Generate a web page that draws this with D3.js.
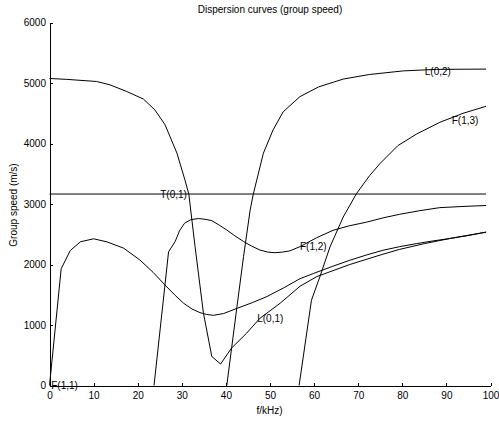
<!DOCTYPE html>
<html>
<head>
<meta charset="utf-8">
<script src="https://cdn.jsdelivr.net/npm/d3@7"></script>
<style>
  body { margin: 0; background: #fff; }
  svg { display: block; font-family: "Liberation Sans", Arial, sans-serif; }
  .axis path, .axis line { stroke: #000; shape-rendering: crispEdges; }
  .axis text { font-size: 10px; fill: #000; font-family: "Liberation Sans", Arial, sans-serif; }
</style>
</head>
<body>
<svg id="chart" width="499" height="421"></svg>
<script>
// f in kHz, group speed in m/s
let modes = ["L(0,1)", "F(1,1)", "F(1,2)", "L(0,2)", "F(1,3)", "T(0,1)"]

let L01 = [[0,5075],[3.9,5060],[10.7,5025],[13.7,4970],[17.5,4860],[21.3,4735],[23.9,4555],
  [26.2,4310],[28.9,3840],[30.7,3400],[31.6,3160],[33,2300],[34.9,1200],[36.8,480],
  [38.8,355],[41.3,620],[44.7,865],[47.7,1110],[52.3,1360],[56.8,1640],[60.6,1800],
  [68.1,2000],[75.6,2170],[79.4,2250],[85,2345],[90.8,2430],[99,2535]]

let F11 = [[0,0],[2.65,1930],[4.7,2230],[7,2375],[10,2425],[13,2375],[16.8,2270],
  [20.5,2075],[23.5,1870],[26.2,1660],[28.5,1490],[30.4,1360],[32.3,1265],[34.1,1205],
  [35.6,1175],[37.2,1160],[39.5,1190],[42.5,1275],[46,1370],[49.3,1470],[53,1610],
  [56.8,1765],[59.8,1850],[64,1965],[68.1,2070],[72,2160],[75.6,2235],[79.4,2295],
  [83.2,2345],[87,2390],[90.8,2430],[95,2480],[99,2535]]

let F12 = [[23.7,0],[27,2210],[28.5,2380],[29.5,2560],[30.6,2680],[32,2740],[33.8,2760],
  [35.5,2745],[36.8,2725],[38.5,2650],[40.2,2570],[42,2475],[44,2380],[45.8,2305],
  [47.7,2240],[49.5,2205],[51.1,2195],[52.8,2205],[54.5,2225],[56.8,2295],[60.5,2440],
  [64.3,2565],[68,2640],[71.9,2700],[75.6,2770],[79.4,2830],[84,2890],[88.5,2940],
  [94,2960],[99,2975]]

let L02 = [[40.2,0],[42.5,1300],[44,2130],[45.5,2900],[46.2,3160],[48.5,3840],[50.7,4225],
  [53,4525],[56.8,4775],[61,4935],[66.6,5065],[72.5,5140],[80.2,5200],[87.8,5225],[99,5230]]

let F13 = [[56.6,0],[59.4,1410],[61.3,1795],[63.6,2290],[66.6,2785],[69.6,3170],[72.6,3470],
  [74.9,3665],[79,3965],[83.2,4155],[88.5,4350],[93.8,4500],[99,4615]]

let T01 = [[0,3165],[99,3165]]

// where each mode name is written (data units, like matlab text())
let label_f = [47.1, 0.4, 56.8, 85.1, 91.2, 25.1]
let label_v = [1100, 0, 2305, 5185, 4375, 3165]

let x_ticks = [0, 10, 20, 30, 40, 50, 60, 70, 80, 90, 100]
let y_ticks = [0, 1000, 2000, 3000, 4000, 5000, 6000]

let svg = d3.select("#chart")
let x = d3.scaleLinear().domain([0, 100]).range([49.5, 490.5])
let y = d3.scaleLinear().domain([0, 6000]).range([385.5, 22.5])

svg.append("g").attr("class", "axis")
  .attr("transform", "translate(0,385.5)")
  .call(d3.axisBottom(x).tickValues(x_ticks).tickSize(-3).tickSizeOuter(0).tickPadding(6))

svg.append("g").attr("class", "axis")
  .attr("transform", "translate(49.5,0)")
  .call(d3.axisLeft(y).tickValues(y_ticks).tickFormat(d3.format("d"))
    .tickSize(-3).tickSizeOuter(0).tickPadding(3.5))

let line = d3.line().x(d => x(d[0])).y(d => y(d[1]))
let curves = [L01, F11, F12, L02, F13, T01]

svg.append("g")
  .selectAll("path")
  .data(curves).enter()
  .append("path")
  .attr("d", line)
  .attr("fill", "none")
  .attr("stroke", "#000")
  .attr("stroke-width", 1)

svg.append("g")
  .selectAll("text")
  .data(modes).enter()
  .append("text")
  .attr("x", (d, i) => x(label_f[i]))
  .attr("y", (d, i) => y(label_v[i]))
  .attr("dy", "0.35em")
  .attr("font-size", 10)
  .text(d => d)

svg.append("text")
  .attr("x", 270).attr("y", 13)
  .attr("text-anchor", "middle")
  .attr("font-size", 10)
  .text("Dispersion curves (group speed)")

svg.append("text")
  .attr("x", 269.5).attr("y", 413.5)
  .attr("text-anchor", "middle")
  .attr("font-size", 10)
  .text("f/kHz)")

svg.append("text")
  .attr("transform", "translate(16.5,205) rotate(-90)")
  .attr("text-anchor", "middle")
  .attr("font-size", 10)
  .text("Group speed (m/s)")
</script>
</body>
</html>
